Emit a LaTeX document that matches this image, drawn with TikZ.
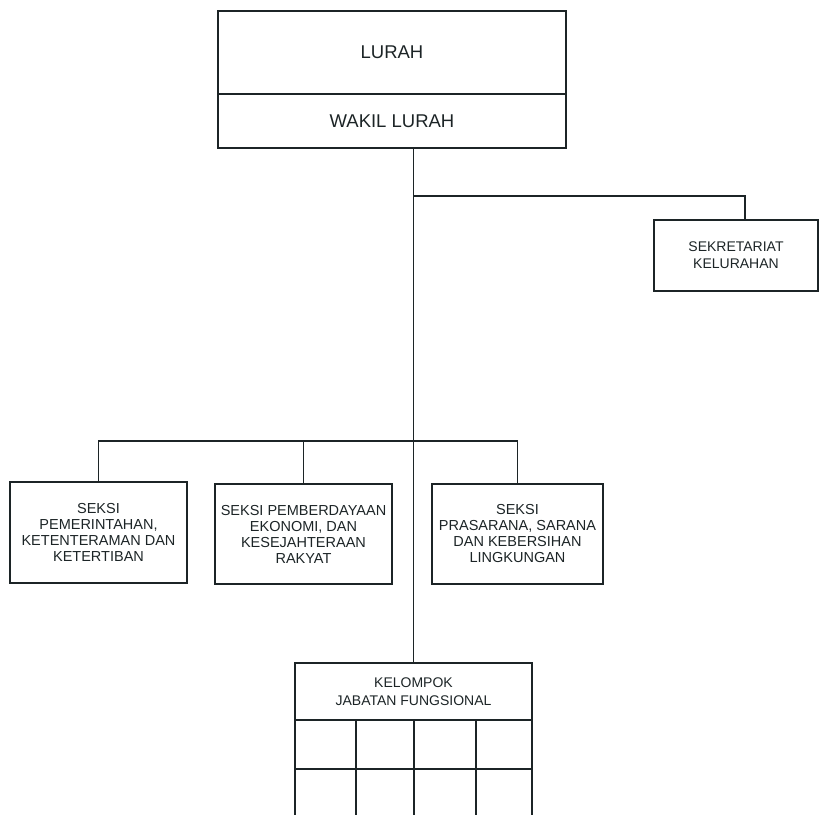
\documentclass[tikz,border=0pt]{standalone}
\usepackage{fontspec}
\setmainfont{Liberation Sans}
\usepackage{xcolor}
\usetikzlibrary{calc}
\definecolor{ink}{RGB}{28,36,38}

\begin{document}
\begin{tikzpicture}[
    x=1pt, y=-1pt,
    unit/.style={draw=ink, line width=1.8pt, align=center, inner sep=0pt, outer sep=0pt, text=ink},
    big/.style={font=\fontsize{18.5}{22}\selectfont},
    small/.style={font=\fontsize{14.5}{16}\selectfont},
    link/.style={draw=ink, line width=1.8pt}
]
  \useasboundingbox (0,0) rectangle (819,814);
  \clip (0,0) rectangle (819,814);

  % Nodes
  \node[unit, big, minimum width=348pt, minimum height=83pt] (lurah) at (392,52.5) {LURAH};
  \node[unit, big, minimum width=348pt, minimum height=54pt, anchor=north] (wakil)
      at (lurah.south) {WAKIL LURAH};
  \node[unit, small, font=\fontsize{14}{17}\selectfont, minimum width=164pt, minimum height=71pt]
      (sekretariat) at (736,255.5) {SEKRETARIAT\\KELURAHAN};
  \node[unit, small, minimum width=177pt, minimum height=101pt] (pemerintahan) at (98.5,532.5)
      {SEKSI\\PEMERINTAHAN,\\KETENTERAMAN DAN\\KETERTIBAN};
  \node[unit, small, minimum width=177pt, minimum height=100pt] (ekonomi) at (303.5,534)
      {SEKSI PEMBERDAYAAN\\EKONOMI, DAN\\KESEJAHTERAAN\\RAKYAT};
  \node[unit, small, minimum width=171pt, minimum height=100pt] (prasarana) at (517.5,534)
      {SEKSI\\PRASARANA, SARANA\\DAN KEBERSIHAN\\LINGKUNGAN};
  \node[unit, small, font=\fontsize{14}{18}\selectfont, minimum width=237pt, minimum height=57pt]
      (kelompok) at (413.5,691.5) {KELOMPOK\\JABATAN FUNGSIONAL};

  % Connectors
  \coordinate (sekjoint) at (745,196);
  \coordinate (bus) at (0,441);
  \draw[link] (kelompok.north |- wakil.south) -- (kelompok.north);
  \draw[link] (kelompok.north |- sekjoint) -- (sekjoint) -- (sekjoint |- sekretariat.north);
  \draw[link] (pemerintahan.north) |- (prasarana.north |- bus) -- (prasarana.north);
  \draw[link] (ekonomi.north) -- (ekonomi.north |- bus);

  % Grid below the functional group
  \draw[link] (kelompok.south west) -- +(0,110) (kelompok.south east) -- +(0,110);
  \draw[link] (kelompok.south west |- 0,769) -- (kelompok.south east |- 0,769);
  \foreach \cx in {356,414,476}
    \draw[link] (\cx,720) -- (\cx,830);
\end{tikzpicture}
\end{document}
